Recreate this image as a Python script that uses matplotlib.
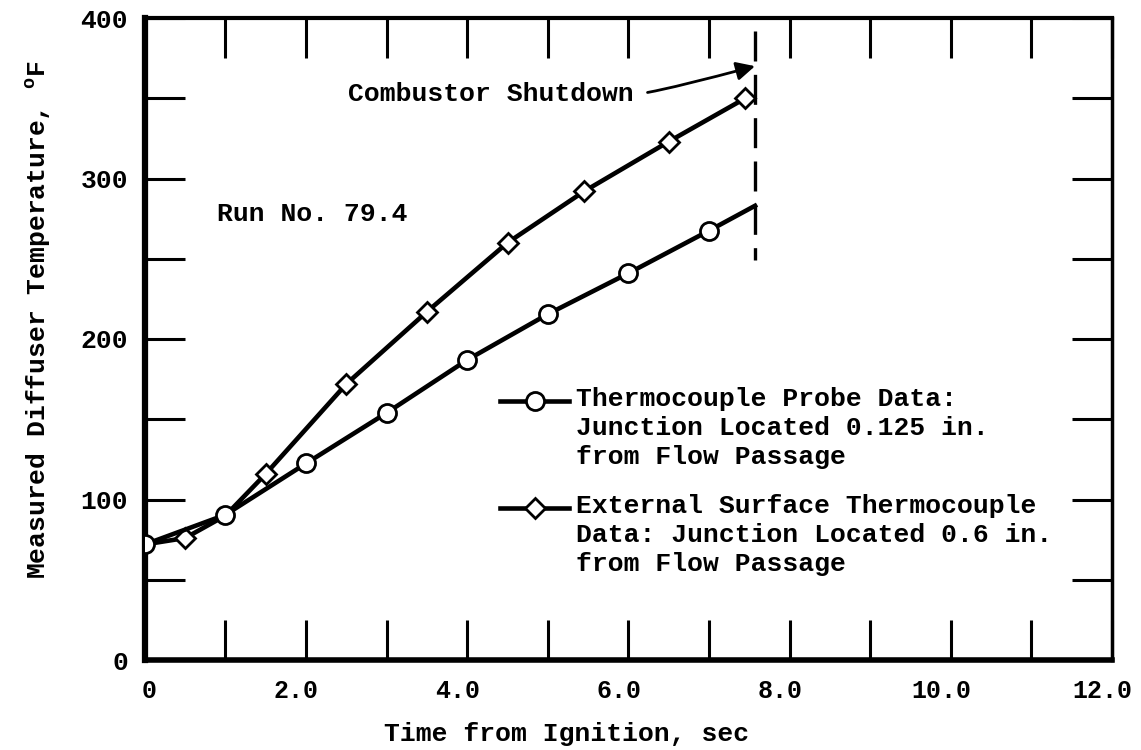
import numpy as np
import matplotlib.pyplot as plt
from matplotlib.transforms import ScaledTranslation

# --- dati ---
probe_t = [0.0, 1.0, 2.0, 3.0, 4.0, 5.0, 6.0, 7.0, 7.57]
probe_T = [72, 90.5, 122.5, 154, 187, 215.5, 241, 267.5, 283]

surf_t = [0.0, 0.5, 1.0, 1.5, 2.5, 3.5, 4.5, 5.45, 6.5, 7.45]
surf_T = [72, 76, 90, 116, 172, 217, 260, 292, 323, 350]

shutdown_t = 7.57
shutdown_T = [392, 249]

xticks = np.arange(0, 13, 1)
xticklabels = ['0', '', '2.0', '', '4.0', '', '6.0', '', '8.0', '', '10.0', '', '12.0']
yticks = np.arange(0, 401, 50)
yticklabels = ['0', '', '100', '', '200', '', '300', '', '400']

label_probe = 'Thermocouple Probe Data:\nJunction Located 0.125 in.\nfrom Flow Passage'
label_surf = 'External Surface Thermocouple\nData: Junction Located 0.6 in.\nfrom Flow Passage'

FS = 19

plt.rcParams['font.family'] = ['Liberation Mono', 'DejaVu Sans Mono']
plt.rcParams['font.weight'] = 'bold'
plt.rcParams['mathtext.fontset'] = 'custom'
plt.rcParams['mathtext.rm'] = 'Liberation Mono:bold'
plt.rcParams['mathtext.bf'] = 'Liberation Mono:bold'

fig = plt.figure(figsize=(11.41, 7.5), dpi=100)
ax = fig.add_axes([0.127, 0.12, 0.8476, 0.856])

circ = dict(marker='o', markersize=13, markerfacecolor='white',
            markeredgecolor='black', markeredgewidth=2)
diam = dict(marker='D', markersize=10, markerfacecolor='white',
            markeredgecolor='black', markeredgewidth=2)

# curva sonda (cerchi) - l'ultimo punto e' la fine della linea, senza marker
ax.plot(probe_t, probe_T, color='black', lw=3.3,
        markevery=list(range(len(probe_t) - 1)), zorder=3, **circ)

# curva superficie esterna (rombi)
ax.plot(surf_t, surf_T, color='black', lw=3.3,
        markevery=[1, 3, 4, 5, 6, 7, 8, 9], zorder=2, **diam)

# linea di spegnimento
ax.plot([shutdown_t, shutdown_t], shutdown_T, color='black', lw=2.4,
        dashes=(9, 4), zorder=1)

ax.annotate('Combustor Shutdown', xy=(shutdown_t, 370), xytext=(2.52, 352.5),
            fontsize=FS, fontweight='bold', va='center', ha='left',
            arrowprops=dict(arrowstyle='-|>', color='black', lw=2,
                            mutation_scale=28, shrinkA=8, shrinkB=0,
                            relpos=(1, 0.5),
                            connectionstyle='angle3,angleA=0,angleB=15'))

ax.text(0.9, 278, 'Run No. 79.4', fontsize=FS, fontweight='bold',
        va='center', ha='left')

# legenda disegnata a mano (simbolo allineato alla prima riga)
for y0, lab, sty in [(0.404, label_probe, circ), (0.237, label_surf, diam)]:
    ax.plot([0.367, 0.439], [y0, y0], transform=ax.transAxes, color='black',
            lw=3.3, clip_on=False)
    ax.plot([0.403], [y0], transform=ax.transAxes, clip_on=False,
            color='black', **sty)
    ax.text(0.446, y0 + 0.022, lab, transform=ax.transAxes, fontsize=FS,
            fontweight='bold', va='top', ha='left', linespacing=1.28)

ax.set_xlim(0, 12)
ax.set_ylim(0, 400)
ax.set_xticks(xticks)
ax.set_xticklabels(xticklabels)
ax.set_yticks(yticks)
ax.set_yticklabels(yticklabels)
ax.tick_params(direction='in', length=29, width=2.2, top=True, right=True,
               labelsize=FS)
ax.tick_params(axis='x', pad=14, labelsize=18)
ax.tick_params(axis='y', pad=12)

# etichette x leggermente spostate a sinistra come nell'originale (tranne lo 0)
shift = ScaledTranslation(-7 / 72, 0, fig.dpi_scale_trans)
shift0 = ScaledTranslation(3 / 72, 0, fig.dpi_scale_trans)
for i, lbl in enumerate(ax.get_xticklabels()):
    lbl.set_transform(lbl.get_transform() + (shift0 if i == 0 else shift))

ax.spines['left'].set_linewidth(4.5)
ax.spines['bottom'].set_linewidth(4)
ax.spines['top'].set_linewidth(3)
ax.spines['right'].set_linewidth(2.5)

ax.set_xlabel('Time from Ignition, sec', fontsize=FS, fontweight='bold')
ax.set_ylabel(r'Measured Diffuser Temperature, $^{\mathbf{o}}$F', fontsize=FS,
              fontweight='bold')
ax.xaxis.set_label_coords(0.436, -0.097)
ax.yaxis.set_label_coords(-0.095, 0.53)

plt.savefig('out.png', dpi=100)
